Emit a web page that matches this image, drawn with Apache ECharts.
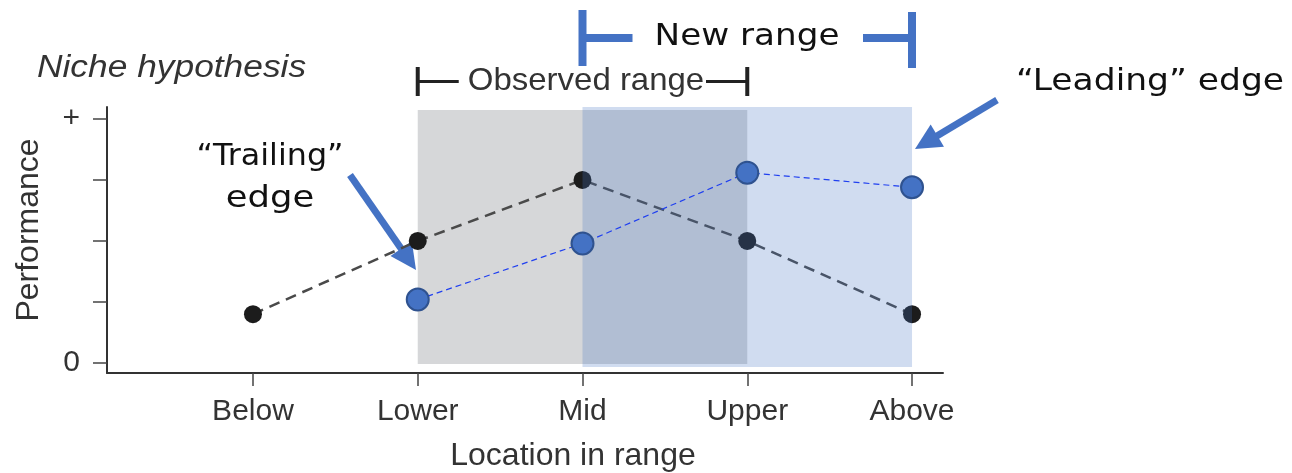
<!DOCTYPE html>
<html><head><meta charset="utf-8">
<script src="https://cdn.jsdelivr.net/npm/echarts@6/dist/echarts.min.js"></script>
<style>html,body{margin:0;padding:0;background:#fff}#c{width:1292px;height:473px}</style>
</head><body><div id="c"></div>
<script>
// ---- data ----
const categories = ['Below', 'Lower', 'Mid', 'Upper', 'Above'];
const nicheValues = [0.20, 0.50, 0.75, 0.50, 0.20];        // black points
const shiftedValues = [null, 0.26, 0.49, 0.78, 0.72];      // blue points
const yTickValues = [0, 0.25, 0.5, 0.75, 1];
const yTickLabels = ['0', '', '', '', '+'];
const observedRange = [1, 3];   // Lower .. Upper
const newRange = [2, 4];        // Mid .. Above

const chart = echarts.init(document.getElementById('c'), null, {renderer: 'canvas'});
const axisFont = 'Liberation Sans, Arial, sans-serif';
const annoFont = 'DejaVu Sans, sans-serif';
const blue = '#4472c4';

const toPairs = arr => arr.map((v, i) => v == null ? null : [i, v]).filter(Boolean);

chart.setOption({
  animation: false,
  grid: {left: 107, right: 349, top: 107, bottom: 100, containLabel: false, outerBoundsMode: 'none'},
  xAxis: {
    type: 'value', min: -0.886, max: 4.188,
    name: 'Location in range', nameLocation: 'middle', nameGap: 67,
    nameTextStyle: {fontFamily: axisFont, fontSize: 32, color: '#333', padding: [0, 0, 0, 96]},
    axisLine: {show: true, onZero: false, lineStyle: {color: '#333', width: 2}},
    axisTick: {show: true, customValues: categories.map((c, i) => i), length: 13, lineStyle: {color: '#444', width: 1.5}},
    axisLabel: {customValues: categories.map((c, i) => i), formatter: v => categories[Math.round(v)] || '',
      fontFamily: axisFont, fontSize: 30, color: '#333', margin: 24},
    splitLine: {show: false}
  },
  yAxis: {
    type: 'value', min: -0.041, max: 1.049,
    name: 'Performance', nameLocation: 'middle', nameGap: 62,
    nameTextStyle: {fontFamily: axisFont, fontSize: 32, color: '#333', padding: [0, 0, 0, 20]},
    axisLine: {show: true, onZero: false, lineStyle: {color: '#333', width: 2}},
    axisTick: {show: true, customValues: yTickValues, length: 14, lineStyle: {color: '#444', width: 1.5}},
    axisLabel: {customValues: yTickValues, formatter: v => yTickLabels[yTickValues.indexOf(v)] ?? '',
      fontFamily: axisFont, fontSize: 30, color: '#333', margin: 27},
    splitLine: {show: false}
  },
  series: [
    {type: 'line', name: 'observed', data: [], z: 1, silent: true,
      markArea: {z: 1, silent: true, itemStyle: {color: '#d6d7d9'},
        data: [[{xAxis: observedRange[0], yAxis: -0.004}, {xAxis: observedRange[1], yAxis: 1.037}]]}},
    {type: 'line', name: 'Niche', z: 2, data: toPairs(nicheValues), symbol: 'circle', symbolSize: 18,
      itemStyle: {color: '#1c1c1c'}, lineStyle: {color: '#4a4a4a', width: 2.5, type: [11, 7]}},
    {type: 'line', name: 'new', data: [], z: 3, silent: true,
      markArea: {z: 3, silent: true, itemStyle: {color: 'rgba(68,114,196,0.25)'},
        data: [[{xAxis: newRange[0], yAxis: -0.016}, {xAxis: newRange[1], yAxis: 1.049}]]}},
    {type: 'line', name: 'Shifted', z: 4, data: toPairs(shiftedValues), symbol: 'circle', symbolSize: 22,
      itemStyle: {color: blue, borderColor: '#2f528f', borderWidth: 2},
      lineStyle: {color: '#1f3ff0', width: 1.2, type: [6, 4]}}
  ]
});

const px = v => chart.convertToPixel({xAxisIndex: 0}, v);

function arrow(x1, y1, x2, y2, color, w, headL, headW) {
  const dx = x2 - x1, dy = y2 - y1, L = Math.hypot(dx, dy), ux = dx / L, uy = dy / L, nx = -uy, ny = ux;
  const bx = x2 - ux * headL, by = y2 - uy * headL;
  return [
    {type: 'line', silent: true, shape: {x1, y1, x2: bx + ux * 2, y2: by + uy * 2}, style: {stroke: color, lineWidth: w}},
    {type: 'polygon', silent: true, shape: {points: [[x2, y2], [bx + nx * headW, by + ny * headW], [bx - nx * headW, by - ny * headW]]}, style: {fill: color}}
  ];
}
function rect(x, y, w, h, color) {
  return {type: 'rect', silent: true, shape: {x, y, width: w, height: h}, style: {fill: color}};
}
function text(t, x, y, font, size, color, align, italic, sx) {
  return {type: 'text', silent: true, x, y, scaleX: sx || 1, style: {text: t, fontFamily: font, fontSize: size, fontStyle: italic ? 'italic' : 'normal',
    fill: color, align: align || 'center', verticalAlign: 'middle', textAlign: align || 'center', textVerticalAlign: 'middle'}};
}

const oL = px(observedRange[0]), oR = px(observedRange[1]);
const nL = px(newRange[0]), nR = px(newRange[1]);
const g = [];
// Niche hypothesis
g.push(text('Niche hypothesis', 37, 68, axisFont, 31, '#333', 'left', true, 1.14));
// Observed range bracket
g.push(rect(oL - 2, 67, 4, 29, '#222'));
g.push(rect(oL, 80, 41, 3, '#222'));
g.push(rect(706, 80, oR - 706, 3, '#222'));
g.push(rect(oR - 2, 67, 4, 29, '#222'));
g.push(text('Observed range', 586, 81, axisFont, 32, '#333', 'center', false, 1.03));
// New range bracket
g.push(rect(nL - 4, 10, 8, 56, blue));
g.push(rect(nL, 34, 50, 8, blue));
g.push(rect(863, 34, nR - 863, 8, blue));
g.push(rect(nR - 4, 12, 8, 56, blue));
g.push(text('New range', 747, 37, annoFont, 30, '#111', 'center', false, 1.14));
// Trailing / Leading edge
g.push(text('\u201CTrailing\u201D', 270, 157, annoFont, 30, '#111', 'center', false, 1.06));
g.push(text('edge', 270, 199, annoFont, 30, '#111', 'center', false, 1.18));
g.push(...arrow(350, 175, 416, 270, blue, 7, 26, 13));
g.push(text('\u201CLeading\u201D edge', 1150, 82, annoFont, 30, '#111', 'center', false, 1.15));
g.push(...arrow(997, 100, 915, 149, blue, 7, 26, 13));

chart.setOption({graphic: g});
</script>
</body></html>
